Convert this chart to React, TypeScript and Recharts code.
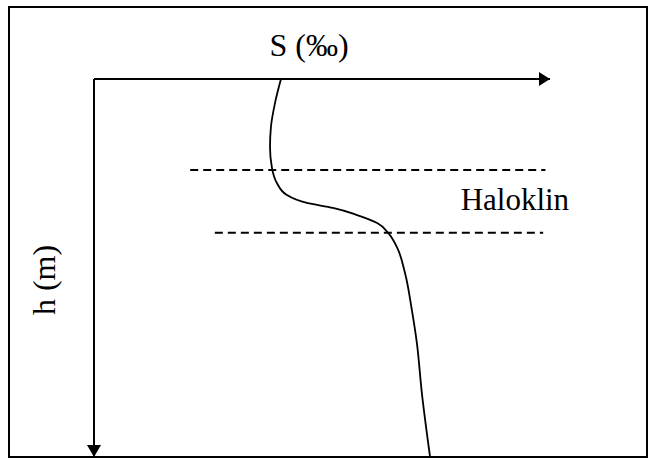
import React from 'react';
import { LineChart, Line, XAxis, YAxis, ReferenceLine, ReferenceDot, Label } from 'recharts';

// Salinity profile: S (relative units along axis) vs depth h (relative units)
const salinity = [41.0, 39.7, 38.8, 38.6, 39.0, 40.1, 42.3, 46.7, 52.4, 57.7, 62.1, 64.5, 66.4, 68.2, 69.7, 70.8, 71.9, 73.7];
const depth = [0, 6.3, 12.7, 18.0, 23.3, 27.5, 30.7, 32.8, 34.1, 36.0, 38.1, 40.7, 44.4, 51.3, 61.1, 69.8, 83.1, 100];

// Halocline boundaries (depth) and their horizontal extents (S)
const haloclineDepths = [24.1, 40.7];
const haloclineStarts = [21.1, 26.5];
const haloclineEnds = [99.0, 98.5];

const xLabel = 'S (‰)';
const yLabel = 'h (m)';
const zoneLabel = 'Haloklin';
const zoneLabelPos = { s: 92.3, h: 31.7 };

const data = salinity.map((s, i) => ({ s, h: depth[i] }));

const FONT = '"Liberation Serif", "Times New Roman", serif';

const ArrowRight = (props: any) => {
  const { cx, cy } = props;
  return <polygon points={`${cx},${cy} ${cx - 11},${cy - 7} ${cx - 11},${cy + 7}`} fill="#000" />;
};
const ArrowDown = (props: any) => {
  const { cx, cy } = props;
  return <polygon points={`${cx},${cy} ${cx - 7},${cy - 12} ${cx + 7},${cy - 12}`} fill="#000" />;
};
const Empty = () => <g />;

export default function App() {
  return (
    <div style={{ position: 'absolute', left: 0, top: 0, width: 649, height: 460, background: '#fff' }}>
      <div
        style={{
          position: 'absolute',
          left: 8,
          top: 6,
          width: 640,
          height: 452,
          border: '2px solid #000',
          boxSizing: 'border-box',
        }}
      />
      <div style={{ position: 'absolute', left: 0, top: 0 }}>
        <LineChart
          width={649}
          height={460}
          data={data}
          layout="vertical"
          margin={{ top: 0, right: 99, bottom: 3, left: 0 }}
        >
          <XAxis
            type="number"
            dataKey="s"
            domain={[0, 100]}
            orientation="top"
            height={79}
            tick={false}
            tickLine={false}
            axisLine={{ stroke: '#000', strokeWidth: 2 }}
          >
            <Label value={xLabel} position="center" dx={-13} dy={5} fontFamily={FONT} fontSize={32} fill="#000" />
          </XAxis>
          <YAxis
            type="number"
            dataKey="h"
            domain={[0, 100]}
            width={94}
            tick={false}
            tickLine={false}
            axisLine={{ stroke: '#000', strokeWidth: 2 }}
          >
            <Label value={yLabel} position="center" angle={-90} dx={-3} dy={12} fontFamily={FONT} fontSize={32} fill="#000" />
          </YAxis>
          {haloclineDepths.map((h, i) => (
            <ReferenceLine
              key={i}
              segment={[{ x: haloclineStarts[i], y: h }, { x: haloclineEnds[i], y: h }]}
              stroke="#000"
              strokeWidth={2}
              strokeDasharray="8 5"
            />
          ))}
          <ReferenceDot x={zoneLabelPos.s} y={zoneLabelPos.h} r={0} shape={Empty} ifOverflow="visible">
            <Label value={zoneLabel} position="center" fontFamily={FONT} fontSize={31} fill="#000" />
          </ReferenceDot>
          <Line
            dataKey="s"
            type="monotone"
            stroke="#000"
            strokeWidth={1.8}
            dot={false}
            isAnimationActive={false}
          />
          <ReferenceDot x={100} y={0} r={0} shape={ArrowRight} ifOverflow="visible" />
          <ReferenceDot x={0} y={100} r={0} shape={ArrowDown} ifOverflow="visible" />
        </LineChart>
      </div>
    </div>
  );
}
